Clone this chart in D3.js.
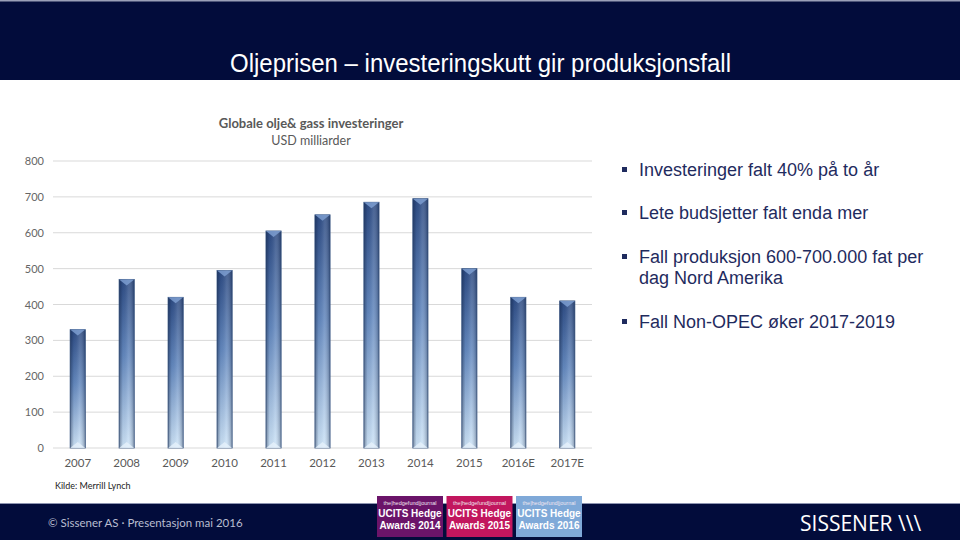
<!DOCTYPE html>
<html>
<head>
<meta charset="utf-8">
<script src="https://cdn.jsdelivr.net/npm/d3@7"></script>
<style>
  body { margin: 0; background: #fff; }
  svg { display: block; }
</style>
</head>
<body>
<svg id="slide" width="960" height="540"></svg>
<script>
// data
var years = ["2007","2008","2009","2010","2011","2012","2013","2014","2015","2016E","2017E"];
var investments = [330, 470, 420, 495, 605, 650, 685, 695, 500, 420, 410];
var yTicks = [0, 100, 200, 300, 400, 500, 600, 700, 800];
var bullets = [
  ["Investeringer falt 40% på to år"],
  ["Lete budsjetter falt enda mer"],
  ["Fall produksjon 600-700.000 fat per", "dag Nord Amerika"],
  ["Fall Non-OPEC øker 2017-2019"]
];
var awardYears = ["2014", "2015", "2016"];
var awardColours = ["#6b1469", "#c2165e", "#7fa9d8"];

var svg = d3.select("#slide");
var navy = "#020c3b";
var calibri = "Lato, 'Open Sans', sans-serif";

//header band
svg.append("rect").attr("x",0).attr("y",0).attr("width",960).attr("height",80).attr("fill",navy);
svg.append("rect").attr("x",0).attr("y",0).attr("width",960).attr("height",1.5).attr("fill","#9aa0b8");
svg.append("text")
  .attr("x",230).attr("y",72)
  .attr("textLength",501).attr("lengthAdjust","spacingAndGlyphs")
  .style("font-family","'Liberation Sans', Arial, sans-serif")
  .style("font-size","26px")
  .attr("fill","#fff")
  .text("Oljeprisen \u2013 investeringskutt gir produksjonsfall");

//chart
var margin = {top: 161, left: 53},
    width = 592 - 53,
    height = 448 - 161;
var g = svg.append("g").attr("transform","translate("+margin.left+","+margin.top+")");

var x = d3.scaleBand().domain(years).range([0,width]).paddingInner(0.69).paddingOuter(0.35);
var y = d3.scaleLinear().domain([0,800]).range([height,0]);

var defs = svg.append("defs");
var vg = defs.append("linearGradient").attr("id","barV").attr("x1",0).attr("y1",0).attr("x2",0).attr("y2",1);
vg.append("stop").attr("offset","0%").attr("stop-color","#2e4c84");
vg.append("stop").attr("offset","45%").attr("stop-color","#6489bf");
vg.append("stop").attr("offset","100%").attr("stop-color","#cfe5f8");
var hg = defs.append("linearGradient").attr("id","barH").attr("x1",0).attr("y1",0).attr("x2",1).attr("y2",0);
hg.append("stop").attr("offset","0%").attr("stop-color","#0a1a3a").attr("stop-opacity",0.45);
hg.append("stop").attr("offset","25%").attr("stop-color","#0a1a3a").attr("stop-opacity",0.05);
hg.append("stop").attr("offset","60%").attr("stop-color","#ffffff").attr("stop-opacity",0.12);
hg.append("stop").attr("offset","100%").attr("stop-color","#0a1a3a").attr("stop-opacity",0.4);

//gridlines
g.selectAll(".grid").data(yTicks).enter().append("line")
  .attr("class","grid")
  .attr("x1",0).attr("x2",width)
  .attr("y1",function(d){return y(d)}).attr("y2",function(d){return y(d)})
  .attr("stroke","#d9d9d9").attr("stroke-width",1);

var yaxis = g.append("g").attr("class","axis axis--y")
  .call(d3.axisLeft(y).tickValues(yTicks).tickSize(0).tickPadding(9));
yaxis.select(".domain").remove();
yaxis.selectAll("text").style("font-family",calibri).style("font-size","11px").attr("fill","#666");

var xaxis = g.append("g").attr("class","axis axis--x")
  .attr("transform","translate(0,"+height+")")
  .call(d3.axisBottom(x).tickSize(0).tickPadding(11));
xaxis.select(".domain").remove();
xaxis.selectAll("text").style("font-family",calibri).style("font-size","11.5px").attr("fill","#595959");

var bars = g.selectAll(".bar").data(investments).enter().append("g").attr("class","bar");
bars.append("rect")
  .attr("x",function(d,i){return x(years[i])})
  .attr("y",function(d){return y(d)})
  .attr("width",x.bandwidth())
  .attr("height",function(d){return height - y(d)})
  .attr("fill","url(#barV)")
  .attr("stroke","#3f5c88").attr("stroke-width",0.8);
bars.append("rect")
  .attr("x",function(d,i){return x(years[i])})
  .attr("y",function(d){return y(d)})
  .attr("width",x.bandwidth())
  .attr("height",function(d){return height - y(d)})
  .attr("fill","url(#barH)");
//top bevel
bars.append("path")
  .attr("d",function(d,i){
    var x0 = x(years[i]), w = x.bandwidth(), t = y(d);
    return "M"+x0+","+t+"L"+(x0+w)+","+t+"L"+(x0+w/2)+","+(t+6)+"Z";
  })
  .attr("fill","#7d9dd0").attr("opacity",0.85);
//bottom bevel
bars.append("path")
  .attr("d",function(d,i){
    var x0 = x(years[i]), w = x.bandwidth();
    return "M"+x0+","+height+"L"+(x0+w/2)+","+(height-6)+"L"+(x0+w)+","+height+"Z";
  })
  .attr("fill","#e6f1fb").attr("opacity",0.8);

//chart titles
svg.append("text").attr("x",311).attr("y",128).attr("text-anchor","middle")
  .style("font-family",calibri).style("font-size","13px").style("font-weight","bold")
  .attr("fill","#595959").text("Globale olje& gass investeringer");
svg.append("text").attr("x",311).attr("y",145).attr("text-anchor","middle")
  .style("font-family",calibri).style("font-size","12.5px")
  .attr("fill","#595959").text("USD milliarder");

svg.append("text").attr("x",55).attr("y",489)
  .style("font-family",calibri).style("font-size","9px")
  .attr("fill","#222").text("Kilde: Merrill Lynch");

//bullet points
var lineY = [170, 213, 257, 322];
bullets.forEach(function(lines,i){
  svg.append("rect").attr("x",622).attr("y",lineY[i]-3).attr("width",5).attr("height",5).attr("fill","#1f2b5e");
  lines.forEach(function(l,j){
    svg.append("text").attr("x",639).attr("y",lineY[i]+6+j*21)
      .style("font-family","'Liberation Sans', Arial, sans-serif").style("font-size","18px")
      .attr("fill","#1f2b5e").text(l);
  });
});

//footer band
svg.append("rect").attr("x",0).attr("y",504).attr("width",960).attr("height",36).attr("fill",navy);
svg.append("rect").attr("x",0).attr("y",503).attr("width",960).attr("height",1).attr("fill","#8d94b0");
svg.append("text").attr("x",48).attr("y",527)
  .style("font-family",calibri).style("font-size","11.5px")
  .attr("fill","#b9bdd0").text("\u00a9 Sissener AS  \u00b7 Presentasjon mai 2016");

var awards = svg.selectAll(".award").data(awardYears).enter().append("g").attr("class","award")
  .attr("transform",function(d,i){return "translate("+(377+i*69.5)+",496)"});
awards.append("rect").attr("width",66).attr("height",41).attr("fill",function(d,i){return awardColours[i]});
awards.append("text").attr("x",33).attr("y",9).attr("text-anchor","middle")
  .style("font-family","'Liberation Sans', Arial, sans-serif").style("font-size","5.5px")
  .attr("fill","#f0e6f0").text("the|hedgefund|journal");
awards.append("text").attr("x",33).attr("y",21).attr("text-anchor","middle")
  .style("font-family","'Liberation Sans', Arial, sans-serif").style("font-size","10px").style("font-weight","bold")
  .attr("fill","#fff").text("UCITS Hedge");
awards.append("text").attr("x",33).attr("y",33).attr("text-anchor","middle")
  .style("font-family","'Liberation Sans', Arial, sans-serif").style("font-size","10px").style("font-weight","bold")
  .attr("fill","#fff").text(function(d){return "Awards "+d});

//logo
svg.append("text").attr("x",800).attr("y",531)
  .style("font-family","'Open Sans', sans-serif").style("font-size","21px")
  .attr("fill","#fff").text("SISSENER \\\\\\");
</script>
</body>
</html>
